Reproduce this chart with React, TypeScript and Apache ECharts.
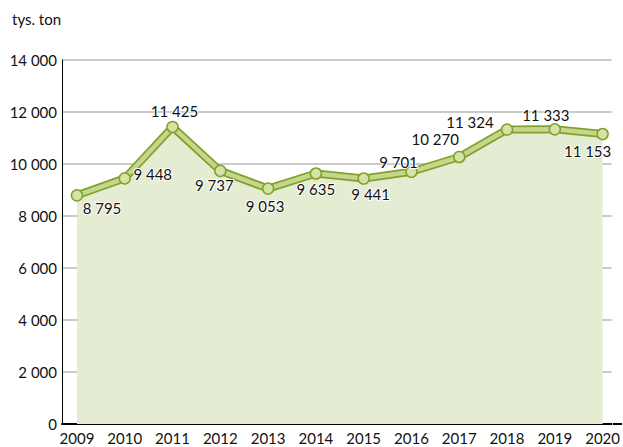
import React, { useEffect, useRef } from "react";
import * as echarts from "echarts";

const years = [2009, 2010, 2011, 2012, 2013, 2014, 2015, 2016, 2017, 2018, 2019, 2020];
const values = [8795, 9448, 11425, 9737, 9053, 9635, 9441, 9701, 10270, 11324, 11333, 11153];
const labelOffsets: [number, number][] = [
  [25, 13], [28, -4], [2, -16], [-6, 14], [-3, 17], [0, 16],
  [7, 15], [-13, -10], [-24, -18], [-37, -8], [-9, -14], [-15, 17],
];
const yTicks = [0, 2000, 4000, 6000, 8000, 10000, 12000, 14000];
const unitLabel = "tys. ton";

const fmt = (v: number) => String(v).replace(/\B(?=(\d{3})+(?!\d))/g, " ");

export default function App() {
  const ref = useRef<HTMLDivElement>(null);
  useEffect(() => {
    if (!ref.current) return;
    const chart = echarts.init(ref.current, null, { renderer: "svg" });
    const pts = years.map((y, i) => [y, values[i]]);
    const font = "Lato, 'Noto Sans', sans-serif";
    chart.setOption({
      animation: false,
      textStyle: { fontFamily: font },
      grid: { left: 62, right: 10, top: 60, bottom: 23 },
      graphic: [
        {
          type: "text",
          left: 12,
          top: 11,
          style: { text: unitLabel, fontSize: 15, fill: "#111", fontFamily: font },
        },
        {
          type: "line",
          shape: { x1: 613, y1: 424, x2: 622, y2: 424 },
          style: { stroke: "#000", lineWidth: 2 },
        },
      ],
      xAxis: {
        type: "value",
        min: 2008.687,
        max: 2020.188,
        splitLine: { show: false },
        axisTick: { show: false },
        axisLine: { lineStyle: { color: "#000", width: 2 } },
        axisLabel: {
          customValues: years,
          formatter: (v: number) => String(v),
          fontSize: 15,
          color: "#111",
          margin: 6,
          fontFamily: font,
        },
      },
      yAxis: {
        type: "value",
        min: 0,
        max: 14000,
        interval: 2000,
        axisLine: { show: true, lineStyle: { color: "#000", width: 1 } },
        axisTick: { show: false },
        splitLine: { lineStyle: { color: "#b8b8b8", width: 1.5 } },
        axisLabel: {
          customValues: yTicks,
          formatter: (v: number) => fmt(v),
          fontSize: 15,
          color: "#111",
          margin: 5,
          fontFamily: font,
        },
      },
      series: [
        {
          type: "line",
          data: pts,
          z: 2,
          showSymbol: false,
          symbol: "none",
          lineStyle: { color: "#82a02e", width: 8 },
          areaStyle: { color: "#e4edd1", opacity: 1, origin: "start" },
        },
        {
          type: "line",
          data: pts,
          z: 3,
          showSymbol: false,
          symbol: "none",
          lineStyle: { color: "#c3d88a", width: 4.5 },
        },
        {
          type: "line",
          z: 4,
          data: pts.map((p, i) => ({
            value: p,
            label: {
              show: true,
              position: "inside",
              offset: labelOffsets[i],
              formatter: () => fmt(values[i]),
              fontSize: 15,
              color: "#111",
              fontFamily: font,
              textBorderColor: "#fff",
              textBorderWidth: 2,
            },
          })),
          lineStyle: { width: 0, opacity: 0 },
          symbol: "circle",
          symbolSize: 11,
          itemStyle: { color: "#d4e5a3", borderColor: "#82a02e", borderWidth: 1.5 },
        },
      ],
    });
    return () => chart.dispose();
  }, []);
  return <div ref={ref} style={{ width: 623, height: 447, position: "absolute", left: 0, top: 0 }} />;
}
